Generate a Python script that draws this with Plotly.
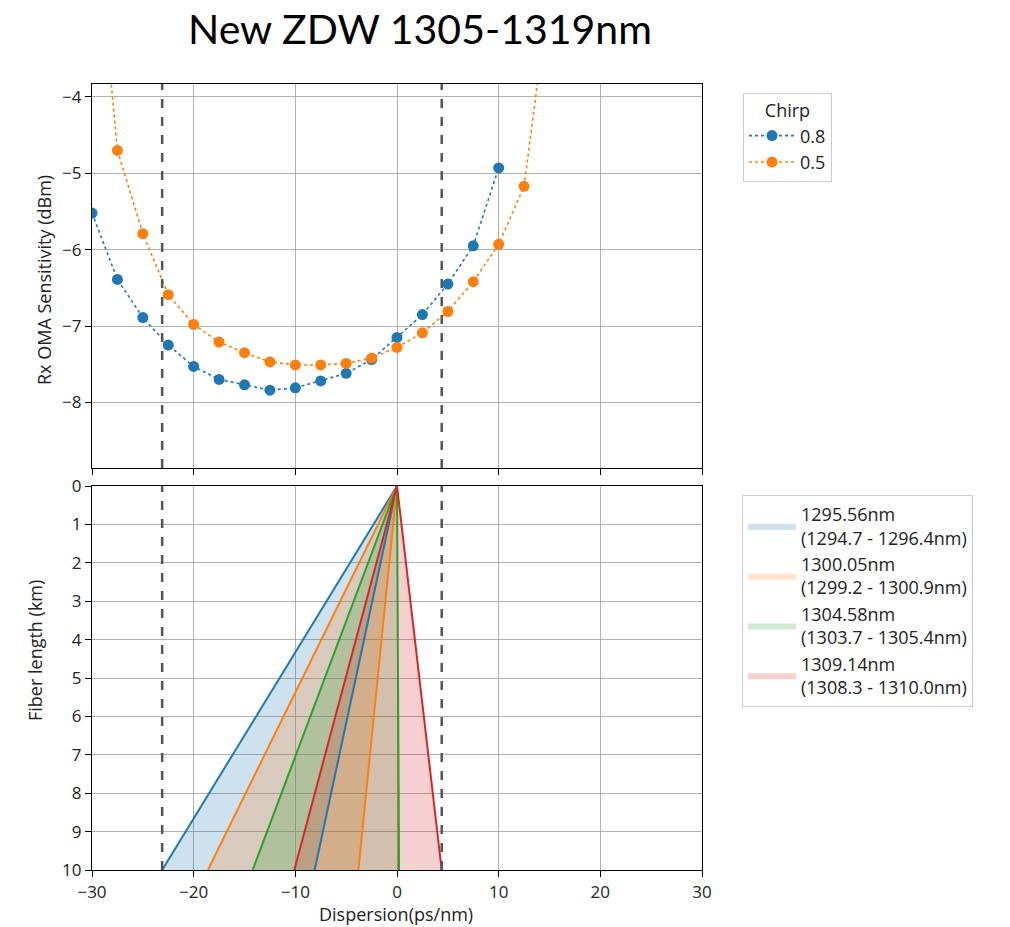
import plotly.graph_objects as go

# ---------------- data ----------------
# Top panel: Rx OMA sensitivity vs dispersion for two chirp values
disp_08 = [-30, -27.5, -25, -22.5, -20, -17.5, -15, -12.5, -10, -7.5, -5, -2.5, 0, 2.5, 5, 7.5, 10]
sens_08 = [-5.52, -6.39, -6.89, -7.25, -7.53, -7.70, -7.77, -7.84, -7.81, -7.72, -7.62, -7.44, -7.15, -6.85, -6.45, -5.95, -4.93]

disp_05 = [-30, -27.5, -25, -22.5, -20, -17.5, -15, -12.5, -10, -7.5, -5, -2.5, 0, 2.5, 5, 7.5, 10, 12.5, 15]
sens_05 = [-1.1, -4.70, -5.79, -6.59, -6.98, -7.21, -7.35, -7.47, -7.51, -7.51, -7.49, -7.42, -7.28, -7.09, -6.81, -6.42, -5.93, -5.17, -2.6]

chirp_labels = ["0.8", "0.5"]

# Bottom panel: accumulated dispersion fans vs fiber length
fiber_km = [0, 10]
band_labels = [
    "1295.56nm<br>(1294.7 - 1296.4nm)",
    "1300.05nm<br>(1299.2 - 1300.9nm)",
    "1304.58nm<br>(1303.7 - 1305.4nm)",
    "1309.14nm<br>(1308.3 - 1310.0nm)",
]
band_disp_low_10km = [-23.1, -18.6, -14.2, -10.1]
band_disp_high_10km = [-8.1, -3.8, 0.2, 4.4]

# dispersion limits (dashed verticals)
dispersion_limits = [-23.1, 4.4]

# ---------------- style ----------------
C = ["#1f77b4", "#ff7f0e", "#2ca02c", "#d62728"]
FILL = ["rgba(31,119,180,0.22)", "rgba(255,127,14,0.22)", "rgba(44,160,44,0.22)", "rgba(214,39,40,0.22)"]
FONT = "Open Sans"
GRID = "#b0b0b0"

fig = go.Figure()

# top panel traces
for xs, ys, col, lab in [(disp_08, sens_08, C[0], chirp_labels[0]), (disp_05, sens_05, C[1], chirp_labels[1])]:
    fig.add_trace(go.Scatter(
        x=xs, y=ys, mode="lines+markers", name=lab,
        line=dict(color=col, width=1.6, dash="dot"),
        marker=dict(color=col, size=11),
        xaxis="x", yaxis="y", legend="legend",
    ))

# bottom panel fills + edges
for i in range(4):
    lo = band_disp_low_10km[i]
    hi = band_disp_high_10km[i]
    fig.add_trace(go.Scatter(
        x=[fiber_km[0] * lo, lo, hi, fiber_km[0] * hi],
        y=[fiber_km[0], fiber_km[1], fiber_km[1], fiber_km[0]],
        fill="toself", fillcolor=FILL[i], mode="lines",
        line=dict(width=0, color=FILL[i]),
        name=band_labels[i], xaxis="x2", yaxis="y2", legend="legend2",
    ))
for i in range(4):
    for end in (band_disp_low_10km[i], band_disp_high_10km[i]):
        fig.add_trace(go.Scatter(
            x=[0, end], y=fiber_km, mode="lines",
            line=dict(color=C[i], width=2), showlegend=False,
            xaxis="x2", yaxis="y2", hoverinfo="skip",
        ))

# dashed vertical limits in both panels
shapes = []
for xv in dispersion_limits:
    for xr, yr in (("x", "y domain"), ("x2", "y2 domain")):
        shapes.append(dict(type="line", xref=xr, yref=yr, x0=xv, x1=xv, y0=0, y1=1,
                           line=dict(color="#555555", width=2.5, dash="dash"), layer="above"))

# geometry (pixels)
W, H = 1010, 927
L, R, T, B = 92, 308, 84, 57
PW, PH = W - L - R, H - T - B

def px(xp):
    return (xp - L) / PW

def py(yp):
    return (H - B - yp) / PH

top_dom = [py(468), 1.0]
bot_dom = [0.0, py(486)]

axis_common = dict(
    showgrid=True, gridcolor=GRID, gridwidth=1, zeroline=False,
    showline=True, linecolor="black", linewidth=1.3, mirror=True,
    ticks="outside", ticklen=6, tickcolor="black",
    tickfont=dict(family=FONT, size=17, color="#222"),
)

fig.update_layout(
    width=W, height=H,
    margin=dict(l=L, r=R, t=T, b=B),
    paper_bgcolor="white", plot_bgcolor="white",
    shapes=shapes,
    xaxis=dict(domain=[0, 1], anchor="y", range=[-30, 30], tickvals=[-30, -20, -10, 0, 10, 20, 30],
               showticklabels=False, **axis_common),
    yaxis=dict(domain=top_dom, anchor="x", range=[-8.86, -3.83], tickvals=[-8, -7, -6, -5, -4], **axis_common),
    xaxis2=dict(domain=[0, 1], anchor="y2", range=[-30, 30], tickvals=[-30, -20, -10, 0, 10, 20, 30],
                **axis_common),
    yaxis2=dict(domain=bot_dom, anchor="x2", range=[10, 0], tickvals=list(range(0, 11)), **axis_common),
    legend=dict(
        x=px(743), y=py(93), xanchor="left", yanchor="top",
        bordercolor="#cccccc", borderwidth=1, bgcolor="white",
        itemwidth=46,
        font=dict(family=FONT, size=18, color="#222"),
        title=dict(text="Chirp", side="top center", font=dict(family=FONT, size=18, color="#222")),
    ),
    legend2=dict(
        x=px(742), y=py(495), xanchor="left", yanchor="top",
        bordercolor="#cccccc", borderwidth=1, bgcolor="white",
        itemwidth=48,
        font=dict(family=FONT, size=18, color="#222"),
    ),
    annotations=[
        dict(text="New ZDW 1305-1319nm", x=px(420), y=py(28), xref="paper", yref="paper",
             showarrow=False, xanchor="center", yanchor="middle",
             font=dict(family="Lato", size=41, color="black")),
        dict(text="Rx OMA Sensitivity (dBm)", x=px(44), y=py(280), xref="paper", yref="paper",
             showarrow=False, textangle=-90, xanchor="center", yanchor="middle",
             font=dict(family=FONT, size=18, color="#222")),
        dict(text="Fiber length (km)", x=px(35), y=py(651), xref="paper", yref="paper",
             showarrow=False, textangle=-90, xanchor="center", yanchor="middle",
             font=dict(family=FONT, size=18, color="#222")),
        dict(text="Dispersion(ps/nm)", x=px(396), y=py(914), xref="paper", yref="paper",
             showarrow=False, xanchor="center", yanchor="middle",
             font=dict(family=FONT, size=18, color="#222")),
    ],
)

fig.write_html("out.html")
